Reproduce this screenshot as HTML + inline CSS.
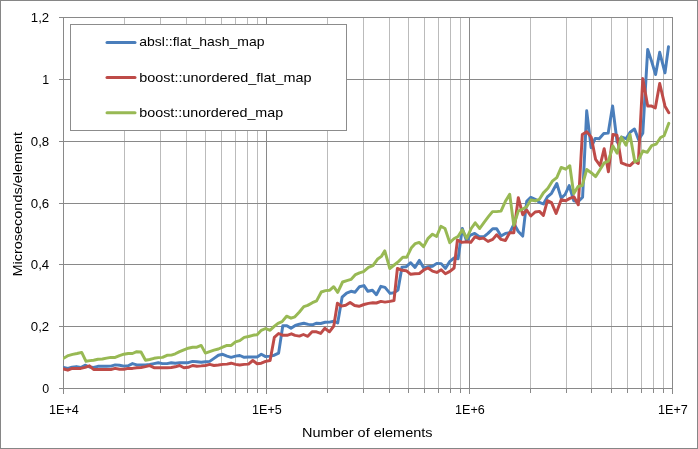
<!DOCTYPE html>
<html><head><meta charset="utf-8"><title>chart</title>
<style>html,body{margin:0;padding:0;background:#fff}svg{display:block}text{font-family:"Liberation Sans",sans-serif;font-size:12.4px;fill:#000}</style></head><body>
<svg width="698" height="449" viewBox="0 0 698 449">
<rect x="0" y="0" width="698" height="449" fill="#fff"/>
<rect x="0.5" y="0.5" width="697" height="448" fill="none" stroke="#868686" stroke-width="1"/>
<path d="M124.5 17.5V388.5M160.5 17.5V388.5M186.5 17.5V388.5M205.5 17.5V388.5M221.5 17.5V388.5M235.5 17.5V388.5M247.5 17.5V388.5M257.5 17.5V388.5M327.5 17.5V388.5M363.5 17.5V388.5M389.5 17.5V388.5M408.5 17.5V388.5M424.5 17.5V388.5M438.5 17.5V388.5M450.5 17.5V388.5M460.5 17.5V388.5M530.5 17.5V388.5M566.5 17.5V388.5M591.5 17.5V388.5M611.5 17.5V388.5M627.5 17.5V388.5M641.5 17.5V388.5M653.5 17.5V388.5M663.5 17.5V388.5" stroke="#bbbbbb" stroke-width="1" fill="none" shape-rendering="crispEdges"/>
<path d="M59.0 17.5H673.0M59.0 79.5H673.0M59.0 141.5H673.0M59.0 203.5H673.0M59.0 264.5H673.0M59.0 326.5H673.0M59.0 388.5H673.0M63.5 17.5V393.5M266.5 17.5V393.5M469.5 17.5V393.5M672.5 17.5V393.5M124.5 388.5V392.5M160.5 388.5V392.5M186.5 388.5V392.5M205.5 388.5V392.5M221.5 388.5V392.5M235.5 388.5V392.5M247.5 388.5V392.5M257.5 388.5V392.5M327.5 388.5V392.5M363.5 388.5V392.5M389.5 388.5V392.5M408.5 388.5V392.5M424.5 388.5V392.5M438.5 388.5V392.5M450.5 388.5V392.5M460.5 388.5V392.5M530.5 388.5V392.5M566.5 388.5V392.5M591.5 388.5V392.5M611.5 388.5V392.5M627.5 388.5V392.5M641.5 388.5V392.5M653.5 388.5V392.5M663.5 388.5V392.5" stroke="#898989" stroke-width="1" fill="none" shape-rendering="crispEdges"/>
<defs><clipPath id="cp"><rect x="63" y="10" width="620" height="385"/></clipPath></defs>
<polyline points="63.6,367.5 67.8,368.4 72.1,367.2 76.4,366.6 80.8,367.5 85.1,365.2 89.4,367.0 93.6,367.5 97.9,366.3 102.4,366.3 106.6,366.3 110.9,366.1 115.2,364.9 119.5,365.2 123.9,366.1 128.2,365.8 132.5,363.6 136.7,364.9 141.0,364.9 145.5,364.9 149.7,364.5 154.0,363.6 158.3,362.7 162.5,363.6 167.0,363.6 171.3,362.7 175.3,363.2 179.6,362.7 183.9,362.7 188.2,362.7 192.6,361.4 196.9,361.8 201.2,362.3 205.4,361.8 209.7,361.4 214.0,358.4 218.4,355.2 222.7,354.3 227.0,356.1 231.2,357.3 235.5,356.1 239.8,355.5 244.2,357.3 248.5,357.0 252.8,357.0 257.1,357.0 261.3,354.3 265.6,356.6 270.1,356.1 274.3,355.2 278.6,353.1 282.8,325.7 286.9,325.7 291.0,328.3 295.3,325.5 299.4,324.2 303.8,323.2 308.3,324.4 312.4,324.8 316.6,323.2 320.7,323.5 325.2,322.3 329.6,322.1 333.7,321.2 337.7,323.0 342.1,297.2 346.6,293.1 351.0,291.3 355.1,292.2 359.5,286.7 364.0,285.6 367.9,291.3 372.4,290.2 376.4,294.7 380.9,286.3 385.0,287.4 390.0,293.4 394.0,292.7 398.0,290.1 402.0,267.1 406.3,266.7 410.7,262.7 415.0,267.4 419.4,260.4 423.8,268.0 428.1,266.7 432.5,266.3 436.8,263.4 441.2,263.6 445.4,268.4 449.9,261.3 454.1,258.0 458.1,258.7 462.3,228.5 466.7,241.3 470.0,235.4 474.7,233.4 479.3,236.7 484.0,236.7 488.0,233.4 492.7,228.7 496.7,228.7 501.0,236.1 505.4,233.4 509.7,232.7 514.1,224.0 518.3,231.4 522.7,236.1 526.7,201.3 530.8,197.3 535.2,199.3 539.4,202.3 543.4,204.0 547.4,196.9 551.5,193.3 556.8,183.5 561.2,198.1 565.1,194.5 569.2,185.6 573.7,200.7 578.1,201.6 582.6,197.2 586.7,110.8 591.1,147.7 595.2,138.4 599.2,138.7 603.8,133.5 608.2,133.1 612.6,105.9 617.1,142.0 621.7,137.1 626.1,138.7 630.1,132.2 634.5,129.0 638.6,139.6 642.8,133.1 647.7,49.4 651.7,61.6 655.6,74.6 659.7,52.3 665.0,72.9 668.5,46.8" fill="none" stroke="#4a7ebb" stroke-width="2.95" stroke-linejoin="round" stroke-linecap="round" clip-path="url(#cp)"/>
<polyline points="63.6,369.0 67.8,370.2 72.1,368.4 76.4,368.4 80.8,368.4 85.1,367.4 89.4,365.8 93.6,369.5 97.9,369.5 102.4,369.5 106.6,369.5 110.9,369.5 115.2,368.4 119.5,369.3 123.9,369.3 128.2,368.4 132.5,368.4 136.7,367.7 141.0,367.5 145.5,366.6 149.7,365.6 154.0,367.7 158.3,367.7 162.5,367.7 167.0,367.7 171.3,367.5 175.3,366.8 179.6,365.5 183.9,367.7 188.2,367.3 192.6,365.5 196.9,366.2 201.2,365.9 205.4,365.5 209.7,364.4 214.0,365.5 218.4,365.0 222.7,364.4 227.0,364.1 231.2,363.2 235.5,364.4 239.8,365.0 244.2,364.4 248.5,364.1 252.8,360.5 257.1,363.7 261.3,363.2 265.6,361.4 270.1,360.5 274.3,337.4 278.6,333.5 282.9,335.3 287.1,335.3 291.4,333.8 295.0,335.4 299.4,336.1 303.4,334.5 307.8,336.3 312.1,331.8 316.5,331.8 320.7,333.4 324.7,328.3 329.4,331.8 333.8,326.0 337.4,303.3 341.2,306.1 345.7,305.2 350.1,302.5 354.6,305.5 359.0,306.3 364.0,304.5 368.5,303.4 372.9,302.7 376.4,303.0 380.9,301.4 385.0,302.1 390.0,301.4 394.0,300.5 397.4,268.4 402.0,270.3 406.3,270.7 410.7,274.3 415.0,273.8 419.4,273.5 423.8,270.0 428.1,268.0 432.5,271.1 436.8,272.4 441.2,269.8 445.4,273.8 449.9,271.4 454.1,268.0 457.4,240.1 461.9,242.4 466.7,241.8 470.8,242.4 475.1,236.7 479.3,238.7 483.4,238.1 488.0,241.4 492.7,239.4 496.7,234.7 501.0,239.4 505.4,240.5 509.7,232.7 513.8,232.7 518.3,197.7 522.7,214.7 526.7,210.0 530.8,216.0 535.2,212.0 539.4,211.4 543.4,215.4 547.4,200.7 551.5,202.7 556.1,213.4 561.2,199.8 565.7,200.7 569.8,198.4 573.9,196.8 578.3,204.8 582.3,134.5 586.7,131.8 591.2,137.1 595.6,159.4 600.1,165.6 604.2,148.7 608.4,171.8 612.9,134.5 617.0,135.3 621.4,162.9 625.9,164.7 630.0,165.6 634.8,161.2 638.3,163.5 642.8,78.6 647.7,105.9 651.2,105.9 655.3,107.9 659.7,83.5 665.0,106.2 668.8,112.7" fill="none" stroke="#be4b48" stroke-width="2.95" stroke-linejoin="round" stroke-linecap="round" clip-path="url(#cp)"/>
<polyline points="63.6,358.3 68.2,355.6 72.6,354.4 77.1,353.5 81.7,352.4 86.0,361.3 89.9,360.6 93.6,360.2 97.9,359.3 102.4,359.0 106.6,358.1 110.9,357.4 115.2,357.4 119.5,355.6 123.9,354.2 128.2,353.5 132.5,353.5 136.7,351.7 141.0,352.0 145.5,360.2 149.7,359.5 154.0,358.3 158.3,357.6 162.5,357.4 167.0,355.3 171.3,355.1 175.3,353.8 179.6,351.6 183.9,349.8 188.2,348.2 192.6,347.2 196.9,347.2 201.2,345.4 205.4,353.1 209.7,351.6 214.0,350.2 218.4,349.0 222.7,347.2 227.0,345.4 231.2,345.4 235.5,341.8 239.8,340.6 244.2,337.4 248.5,336.5 252.8,335.3 257.1,334.7 261.3,330.3 265.6,328.5 270.1,330.3 273.9,326.6 278.0,323.3 282.1,321.6 286.6,316.2 291.0,318.2 294.9,316.8 299.4,312.0 303.8,306.6 307.7,305.4 312.4,302.7 316.6,300.9 321.3,292.0 325.5,290.6 329.8,290.2 333.7,286.7 337.7,292.4 342.6,282.0 346.9,280.6 351.0,279.4 355.5,274.6 359.5,272.8 363.5,271.7 368.5,267.4 372.9,265.7 377.4,259.3 381.4,256.4 384.8,250.9 389.8,268.5 394.2,265.0 398.7,261.4 402.8,257.3 406.7,257.3 411.2,248.1 415.3,243.6 419.2,242.4 423.6,246.6 428.1,238.3 432.5,234.2 436.6,236.5 440.9,226.3 445.0,228.5 449.8,242.7 453.9,238.8 458.0,236.5 462.3,229.9 466.7,238.3 471.2,228.5 475.2,222.8 479.7,228.5 484.1,222.3 488.6,216.4 492.5,211.6 496.6,211.6 501.0,211.1 505.4,201.3 509.7,194.3 513.8,225.4 518.3,211.1 522.7,209.0 526.7,206.7 530.8,200.0 535.2,200.9 539.4,199.3 543.4,192.9 547.9,188.3 552.3,181.2 556.8,177.6 561.2,167.4 565.7,169.2 569.8,165.7 573.7,193.6 578.1,186.5 582.2,185.6 586.7,169.5 591.2,172.7 595.6,176.6 600.1,169.5 604.2,162.9 608.4,161.2 612.9,146.0 617.0,153.1 621.4,137.1 625.9,145.1 630.0,134.5 634.8,161.7 638.3,160.3 642.8,151.0 647.2,152.3 651.7,145.7 656.1,144.2 660.6,137.5 664.1,135.7 668.8,123.3" fill="none" stroke="#98b954" stroke-width="2.95" stroke-linejoin="round" stroke-linecap="round" clip-path="url(#cp)"/>
<rect x="70.5" y="24.5" width="276" height="106" fill="#fff" stroke="#8c8c8c" stroke-width="1" shape-rendering="crispEdges"/>
<line x1="107" y1="42.5" x2="135" y2="42.5" stroke="#4a7ebb" stroke-width="3" stroke-linecap="round"/>
<text x="139.3" y="46.4" textLength="125.2" lengthAdjust="spacingAndGlyphs">absl::flat_hash_map</text>
<line x1="107" y1="77.6" x2="135" y2="77.6" stroke="#be4b48" stroke-width="3" stroke-linecap="round"/>
<text x="139.3" y="81.5" textLength="172.2" lengthAdjust="spacingAndGlyphs">boost::unordered_flat_map</text>
<line x1="107" y1="112.7" x2="135" y2="112.7" stroke="#98b954" stroke-width="3" stroke-linecap="round"/>
<text x="139.3" y="116.60000000000001" textLength="143.9" lengthAdjust="spacingAndGlyphs">boost::unordered_map</text>
<text x="49.2" y="22.1" text-anchor="end" textLength="18.4" lengthAdjust="spacingAndGlyphs">1,2</text>
<text x="49.2" y="83.9" text-anchor="end">1</text>
<text x="49.2" y="145.8" text-anchor="end" textLength="18.4" lengthAdjust="spacingAndGlyphs">0,8</text>
<text x="49.2" y="207.6" text-anchor="end" textLength="18.4" lengthAdjust="spacingAndGlyphs">0,6</text>
<text x="49.2" y="269.4" text-anchor="end" textLength="18.4" lengthAdjust="spacingAndGlyphs">0,4</text>
<text x="49.2" y="331.3" text-anchor="end" textLength="18.4" lengthAdjust="spacingAndGlyphs">0,2</text>
<text x="49.2" y="393.1" text-anchor="end">0</text>
<text x="64.0" y="414" text-anchor="middle" textLength="29.8" lengthAdjust="spacingAndGlyphs">1E+4</text>
<text x="267.0" y="414" text-anchor="middle" textLength="29.8" lengthAdjust="spacingAndGlyphs">1E+5</text>
<text x="470.0" y="414" text-anchor="middle" textLength="29.8" lengthAdjust="spacingAndGlyphs">1E+6</text>
<text x="673.0" y="414" text-anchor="middle" textLength="29.8" lengthAdjust="spacingAndGlyphs">1E+7</text>
<text x="367.3" y="436.6" text-anchor="middle" textLength="130.5" lengthAdjust="spacingAndGlyphs">Number of elements</text>
<text transform="translate(21.9 204.2) rotate(-90)" text-anchor="middle" textLength="144.5" lengthAdjust="spacingAndGlyphs">Microseconds/element</text>
</svg></body></html>
